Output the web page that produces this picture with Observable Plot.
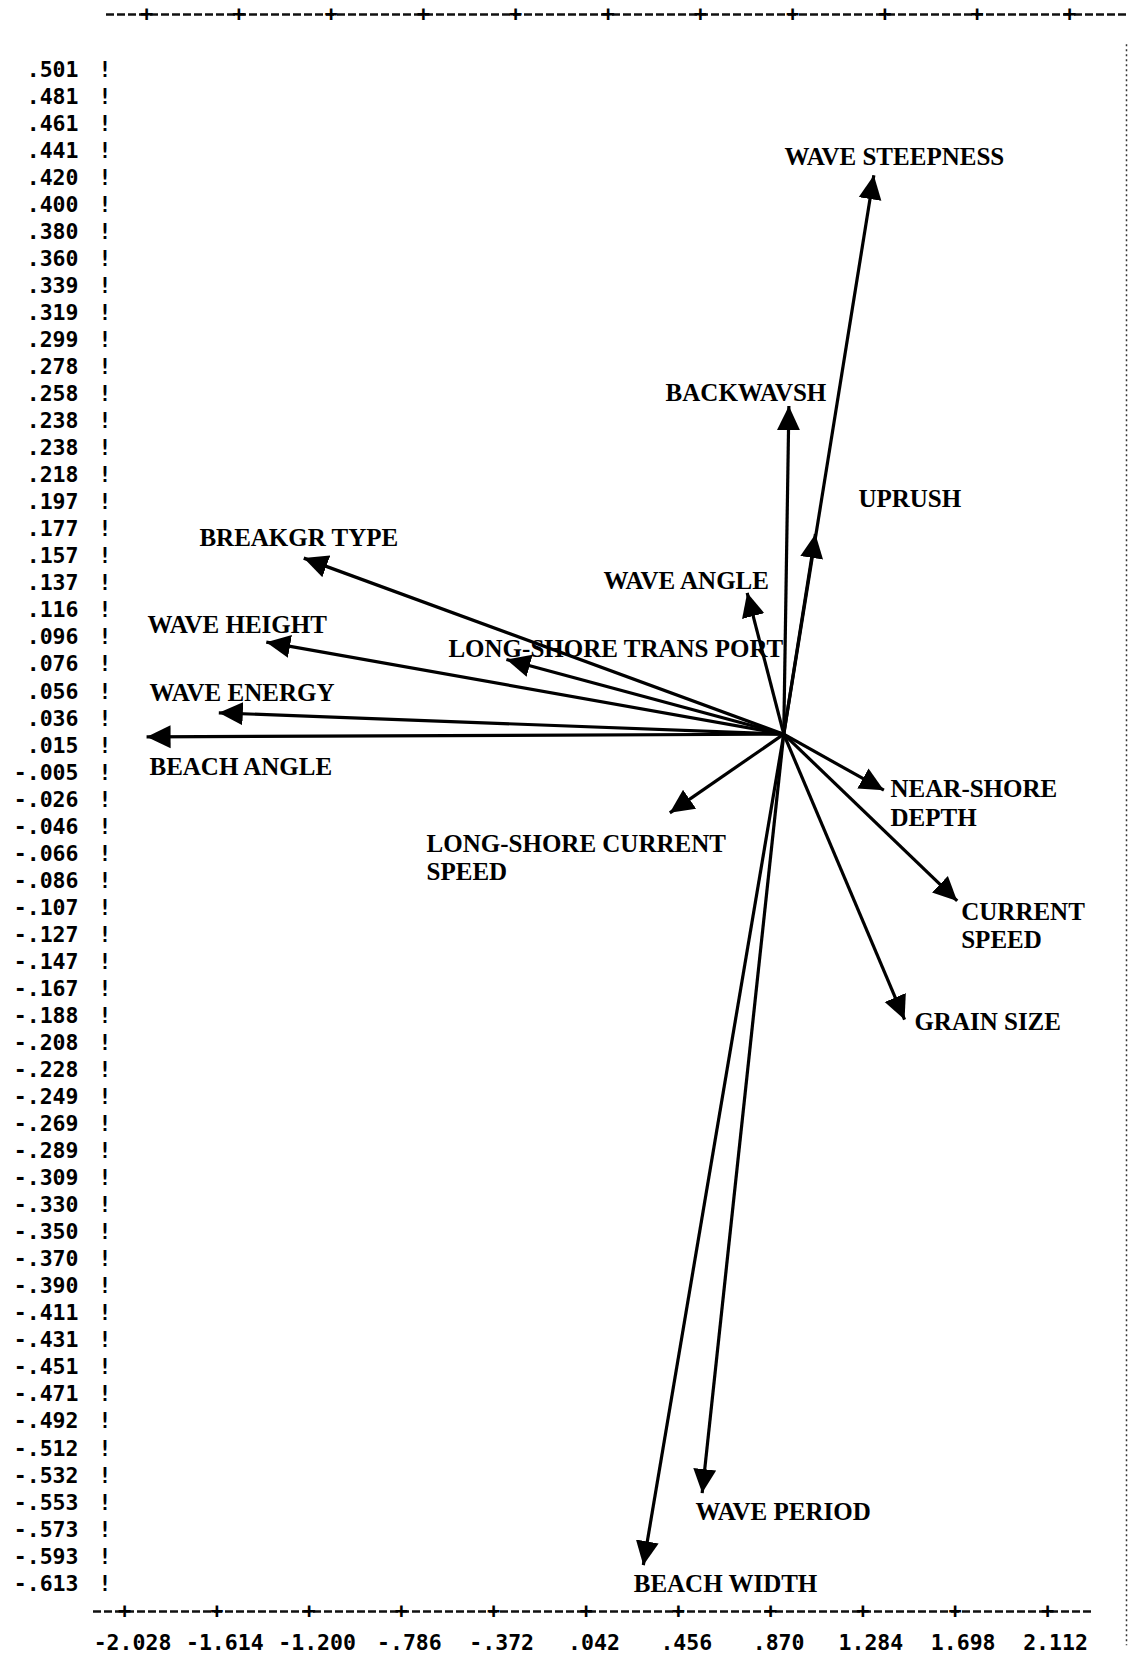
<!DOCTYPE html>
<html><head><meta charset="utf-8">
<script src="https://cdn.jsdelivr.net/npm/d3@7"></script>
<script src="https://cdn.jsdelivr.net/npm/@observablehq/plot@0.6"></script>
<style>
html,body{margin:0;padding:0;background:#fff;}
#chart svg{display:block}
</style>
</head><body><div id="chart"></div>
<script>
// ---- data (axis units of the printed plot) ----
const variables = ["WAVE STEEPNESS","BACKWAVSH","UPRUSH","WAVE ANGLE","LONG-SHORE TRANS PORT","BREAKGR TYPE","WAVE HEIGHT","WAVE ENERGY","BEACH ANGLE","LONG-SHORE CURRENT\nSPEED","NEAR-SHORE\nDEPTH","CURRENT\nSPEED","GRAIN SIZE","WAVE PERIOD","BEACH WIDTH"];
const tipX   = [1.333, 0.952, 1.071, 0.765, -0.315, -1.224, -1.392, -1.605, -1.929, 0.418, 1.378, 1.707, 1.471, 0.563, 0.299];
const tipY   = [0.443, 0.270, 0.174, 0.130, 0.080, 0.156, 0.093, 0.040, 0.022, -0.035, -0.018, -0.101, -0.190, -0.545, -0.599];
const labelX = [0.932, 0.399, 1.264, 0.120, -0.575, -1.692, -1.925, -1.916, -1.916, -0.673, 1.408, 1.725, 1.515, 0.533, 0.256];
const labelY = [0.458, 0.281, 0.201, 0.140, 0.089, 0.172, 0.107, 0.056, 0.000, -0.068, -0.027, -0.119, -0.191, -0.558, -0.612];
const originX = 0.929;
const originY = 0.024;
const xTickLabels = ["-2.028","-1.614","-1.200","-.786","-.372",".042",".456",".870","1.284","1.698","2.112"];
const yTickLabels = [".501",".481",".461",".441",".420",".400",".380",".360",".339",".319",".299",".278",".258",".238",".238",".218",".197",".177",".157",".137",".116",".096",".076",".056",".036",".015","-.005","-.026","-.046","-.066","-.086","-.107","-.127","-.147","-.167","-.188","-.208","-.228","-.249","-.269","-.289","-.309","-.330","-.350","-.370","-.390","-.411","-.431","-.451","-.471","-.492","-.512","-.532","-.553","-.573","-.593","-.613"];
const yBottom = -0.613;
const yStep = 0.02027;

// ---- derived tables ----
const xVals = xTickLabels.map(Number);
const nRows = yTickLabels.length;
const rows = yTickLabels.map((label, i) => ({label, y: yBottom + (nRows - 1 - i) * yStep}));
const arrows = variables.map((name, i) => ({name, x: tipX[i], y: tipY[i], lx: labelX[i], ly: labelY[i]}));

function triangleHead(color, context) {
  const doc = (context && context.document) || document;
  const ns = "http://www.w3.org/2000/svg";
  const m = doc.createElementNS(ns, "marker");
  m.setAttribute("viewBox", "-24 -12 24 24");
  m.setAttribute("markerUnits", "userSpaceOnUse");
  m.setAttribute("markerWidth", 24);
  m.setAttribute("markerHeight", 24);
  m.setAttribute("refX", 0);
  m.setAttribute("refY", 0);
  m.setAttribute("orient", "auto");
  const p = doc.createElementNS(ns, "path");
  p.setAttribute("d", "M-24,-11.5L0,0L-24,11.5Z");
  p.setAttribute("fill", color);
  p.setAttribute("stroke", "none");
  m.appendChild(p);
  return m;
}

const mono = "'DejaVu Sans Mono', 'Liberation Mono', monospace";
const serif = "'Liberation Serif', 'DejaVu Serif', serif";

const chart = Plot.plot({
  width: 1128,
  height: 1658,
  marginLeft: 124,
  marginRight: 81,
  marginTop: 69.3,
  marginBottom: 74.7,
  x: {domain: [xVals[0], xVals[xVals.length - 1]], axis: null},
  y: {domain: [rows[nRows - 1].y, rows[0].y], axis: null},
  style: {background: "white", color: "black", overflow: "visible"},
  marks: [
    // top printer border
    Plot.ruleY([rows[0].y], {dy: -55.3, insetLeft: -18, insetRight: -81, stroke: "#111", strokeWidth: 2.3, strokeDasharray: "8,3"}),
    Plot.text(xVals, {x: d => d, frameAnchor: "top", lineAnchor: "middle", dy: -56, dx: 22, text: () => "+", fontFamily: mono, fontWeight: "bold", fontSize: 22}),
    // bottom printer axis
    Plot.ruleY([rows[nRows - 1].y], {dy: 27.7, insetLeft: -31, insetRight: -44, stroke: "#111", strokeWidth: 2.3, strokeDasharray: "8,3"}),
    Plot.text(xVals, {x: d => d, frameAnchor: "bottom", lineAnchor: "middle", dy: 27, text: () => "+", fontFamily: mono, fontWeight: "bold", fontSize: 22}),
    Plot.text(xTickLabels, {x: d => +d, frameAnchor: "bottom", lineAnchor: "middle", dy: 59, dx: 8, text: d => d, fontFamily: mono, fontWeight: "bold", fontSize: 21.5}),
    // right dotted border
    Plot.ruleX([xVals[xVals.length - 1]], {dx: 79, insetTop: -25, insetBottom: -62, stroke: "#333", strokeWidth: 1.5, strokeDasharray: "2,3"}),
    // left row labels and "!" markers
    Plot.text(rows, {y: "y", text: "label", frameAnchor: "left", textAnchor: "end", dx: -46, fontFamily: mono, fontWeight: "bold", fontSize: 21.5}),
    Plot.text(rows, {y: "y", text: () => "!", frameAnchor: "left", dx: -26, fontFamily: mono, fontWeight: "bold", fontSize: 21.5}),
    // vectors
    Plot.link(arrows, {x1: () => originX, y1: () => originY, x2: "x", y2: "y", stroke: "black", strokeWidth: 3.2, markerEnd: triangleHead}),
    Plot.text(arrows, {x: "lx", y: "ly", text: "name", textAnchor: "start", lineAnchor: "middle", lineHeight: 1.15, fontFamily: serif, fontWeight: "bold", fontSize: 25})
  ]
});
document.getElementById("chart").appendChild(chart);
</script>
</body></html>
